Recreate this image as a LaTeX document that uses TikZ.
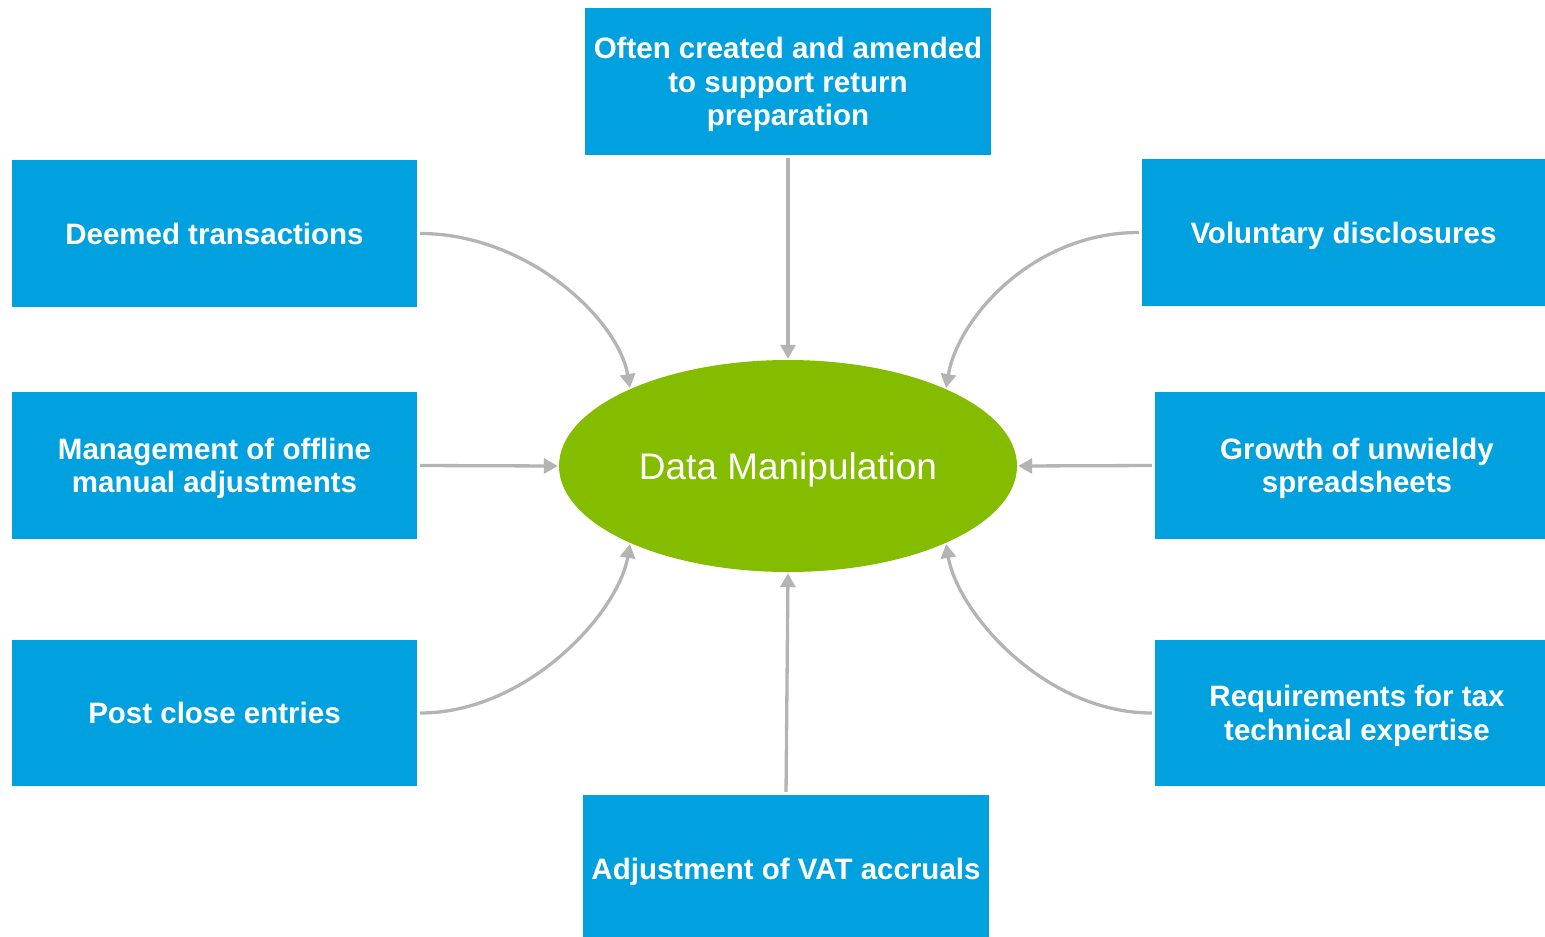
\documentclass[tikz,border=0pt]{standalone}
\usepackage{fontspec}
\setmainfont{Liberation Sans}
\usetikzlibrary{shapes.geometric,arrows.meta}
\definecolor{boxblue}{RGB}{0,161,222}
\definecolor{hubgreen}{RGB}{132,189,0}
\definecolor{linkgray}{RGB}{180,180,180}
\begin{document}
\begin{tikzpicture}[x=1pt,y=-1pt,
  infobox/.style={rectangle, fill=boxblue, text=white, inner sep=0pt,
    minimum width=405pt, minimum height=147pt, align=center,
    text depth=0pt,
    font=\fontsize{29.5}{33.5}\selectfont\bfseries},
  hub/.style={ellipse, fill=hubgreen, text=white, inner sep=0pt,
    minimum width=458pt, minimum height=212pt,
    text height=26.5pt, text depth=0pt,
    font=\fontsize{37}{40}\selectfont},
  feed/.style={draw=linkgray, line width=3.3pt,
    -{Triangle[length=14pt,width=15pt]}, shorten <=3pt, shorten >=1pt}]
\useasboundingbox (0,0) rectangle (1545,937);

\node[hub] (dm) at (788,466) {Data Manipulation};

\node[infobox, minimum width=406pt] (top) at (788,81.5)
  {Often created and amended\\to support return\\preparation};
\node[infobox] (deemed) at (214.5,233.5) {Deemed transactions};
\node[infobox, minimum width=403pt] (vol) at (1343.5,232.5) {Voluntary disclosures};
\node[infobox] (mgmt) at (214.5,465.5) {Management of offline\\manual adjustments};
\node[infobox, minimum width=404pt] (growth) at (1357,465.5) {Growth of unwieldy\\spreadsheets};
\node[infobox, minimum height=146pt] (post) at (214.5,713) {Post close entries};
\node[infobox, minimum width=404pt, minimum height=146pt] (req) at (1357,713)
  {Requirements for tax\\technical expertise};
\node[infobox, minimum width=406pt] (vat) at (786,868.5) {Adjustment of VAT accruals};

% straight feeds
\draw[feed] (top.south) -- (dm.north);
\draw[feed] (vat.north) -- (dm.south);
\draw[feed] (mgmt.east) -- (dm.west);
\draw[feed] (growth.west) -- (dm.east);

% curved feeds
\draw[feed] (deemed.east) .. controls +(110,0) and +(-12,-70) .. (dm.154);
\draw[feed] (vol.west) .. controls +(-110,0) and +(12,-70) .. (dm.26);
\draw[feed] (post.east) .. controls +(110,0) and +(-12,70) .. (dm.206);
\draw[feed] (req.west) .. controls +(-110,0) and +(12,70) .. (dm.334);
\end{tikzpicture}
\end{document}
